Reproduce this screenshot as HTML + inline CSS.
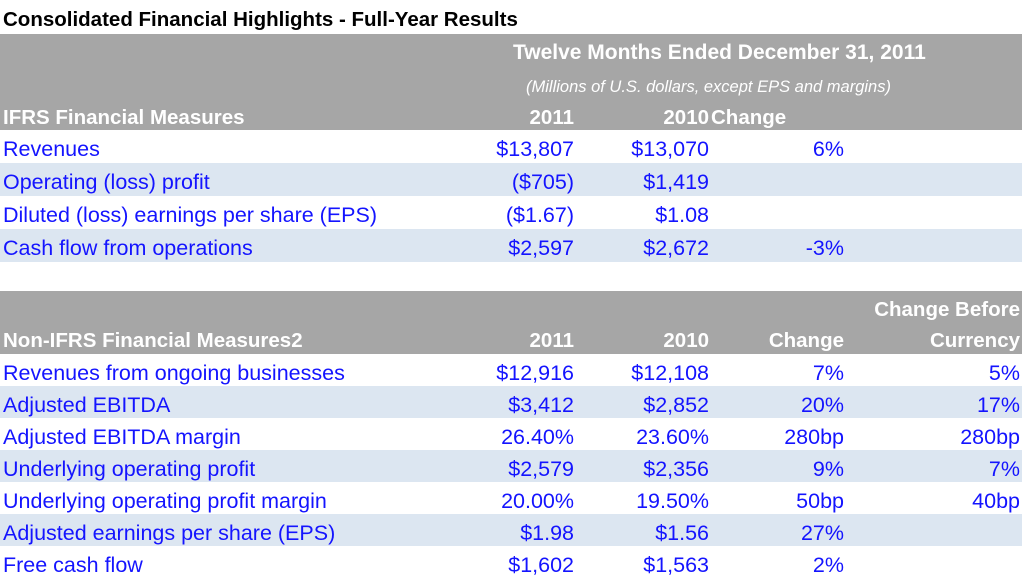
<!DOCTYPE html>
<html><head><style>
body{margin:0;width:1022px;height:584px;overflow:hidden;background:#fff;font-family:"Liberation Sans",sans-serif;position:relative}
.a{position:absolute;white-space:nowrap;line-height:1}
.band{position:absolute;left:0;width:1022px;background:#a6a6a6}
.blue{position:absolute;left:0;width:1022px;background:#dce6f1;height:32px}
.h{color:#fff;font-weight:bold;font-size:20.5px}
.t{color:#1414ff;font-size:21.5px}
.r{text-align:right}
</style></head><body>
<div class="a" style="left:3px;top:10px;font-size:20.5px;font-weight:bold;color:#000">Consolidated Financial Highlights - Full-Year Results</div>
<div class="band" style="top:34px;height:96px"></div>
<div class="a h" style="left:513px;top:42px;font-size:21px">Twelve Months Ended December 31, 2011</div>
<div class="a" style="left:526px;top:79px;font-size:16.5px;font-style:italic;color:#fff">(Millions of U.S. dollars, except EPS and margins)</div>
<div class="a h" style="left:3px;top:108px">IFRS Financial Measures</div>
<div class="a h r" style="right:448px;top:108px">2011</div>
<div class="a h r" style="right:313px;top:108px">2010</div>
<div class="a h" style="left:711px;top:108px">Change</div>

<div class="blue" style="top:163px;height:33px"></div>
<div class="blue" style="top:229px;height:33px"></div>

<div class="band" style="top:291px;height:63px"></div>
<div class="a h r" style="right:2px;top:300px">Change Before</div>
<div class="a h" style="left:3px;top:331px">Non-IFRS Financial Measures2</div>
<div class="a h r" style="right:448px;top:331px">2011</div>
<div class="a h r" style="right:313px;top:331px">2010</div>
<div class="a h r" style="right:178px;top:331px">Change</div>
<div class="a h r" style="right:2px;top:331px">Currency</div>

<div class="blue" style="top:386px"></div>
<div class="blue" style="top:450px"></div>
<div class="blue" style="top:514px"></div>

<div id="rows"></div>
<script>
var d=[
[139,"Revenues","$13,807","$13,070","6%",""],
[172,"Operating (loss) profit","($705)","$1,419","",""],
[205,"Diluted (loss) earnings per share (EPS)","($1.67)","$1.08","",""],
[238,"Cash flow from operations","$2,597","$2,672","-3%",""],
[363,"Revenues from ongoing businesses","$12,916","$12,108","7%","5%"],
[395,"Adjusted EBITDA","$3,412","$2,852","20%","17%"],
[427,"Adjusted EBITDA margin","26.40%","23.60%","280bp","280bp"],
[459,"Underlying operating profit","$2,579","$2,356","9%","7%"],
[491,"Underlying operating profit margin","20.00%","19.50%","50bp","40bp"],
[523,"Adjusted earnings per share (EPS)","$1.98","$1.56","27%",""],
[555,"Free cash flow","$1,602","$1,563","2%",""]];
var h="";
d.forEach(function(r){var y=r[0];
h+='<div class="a t" style="left:3px;top:'+y+'px">'+r[1]+'</div>';
h+='<div class="a t r" style="right:448px;top:'+y+'px">'+r[2]+'</div>';
h+='<div class="a t r" style="right:313px;top:'+y+'px">'+r[3]+'</div>';
h+='<div class="a t r" style="right:178px;top:'+y+'px">'+r[4]+'</div>';
h+='<div class="a t r" style="right:2px;top:'+y+'px">'+r[5]+'</div>';});
document.getElementById('rows').innerHTML=h;
</script>
</body></html>
